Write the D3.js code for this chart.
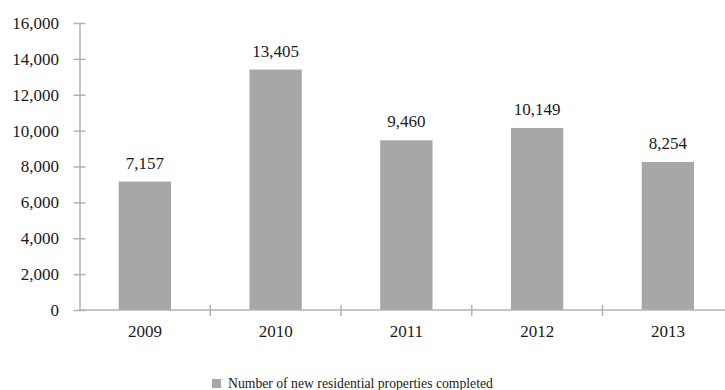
<!DOCTYPE html>
<html>
<head>
<meta charset="utf-8">
<script src="https://cdn.jsdelivr.net/npm/d3@7"></script>
<style>
  html, body { margin: 0; padding: 0; background: #fff; overflow: hidden; }
  svg { display: block; }
  text { font-family: "Liberation Serif", "Times New Roman", "DejaVu Serif", serif; fill: #1a1a1a; }
</style>
</head>
<body>
<svg id="chart" width="725" height="390"></svg>
<script>
// Completed new residential properties per year
const years = ["2009", "2010", "2011", "2012", "2013"];
const completed = [7157, 13405, 9460, 10149, 8254];
const yTicks = [0, 2000, 4000, 6000, 8000, 10000, 12000, 14000, 16000];
const seriesName = "Number of new residential properties completed";

const svg = d3.select("#chart");
const left = 79.5, bandW = 130.75;
const x = d3.scaleBand()
  .domain(years)
  .range([left, left + bandW * years.length])
  .paddingInner(0.6)
  .paddingOuter(0.3);
const y = d3.scaleLinear().domain([0, 16000]).range([310, 23]);

const axisColor = "#b3b3b6";
const barColor = "#a7a7aa";
const fmt = d3.format(",");
const labelSize = 17;

// bars
svg.selectAll("rect.bar")
  .data(years)
  .join("rect")
  .attr("class", "bar")
  .attr("x", d => x(d))
  .attr("width", x.bandwidth())
  .attr("y", (d, i) => y(completed[i]))
  .attr("height", (d, i) => y(0) - y(completed[i]))
  .attr("fill", barColor);

// value labels
svg.selectAll("text.val")
  .data(years)
  .join("text")
  .attr("class", "val")
  .attr("x", d => x(d) + x.bandwidth() / 2)
  .attr("y", (d, i) => y(completed[i]) - 13)
  .attr("text-anchor", "middle")
  .attr("font-size", labelSize)
  .text((d, i) => fmt(completed[i]));

// y axis
const yAxis = svg.append("g").attr("transform", `translate(${left},0)`)
  .call(d3.axisLeft(y).tickValues(yTicks).tickFormat(fmt).tickSize(5).tickSizeOuter(0));
yAxis.attr("font-family", null);
yAxis.select(".domain").attr("stroke", axisColor).attr("stroke-width", 1.5);
yAxis.selectAll(".tick line").attr("stroke", axisColor).attr("stroke-width", 1.5)
  .attr("x1", 6).attr("x2", -6);
yAxis.selectAll(".tick text").attr("x", -20.5).attr("font-size", labelSize).attr("fill", "#1a1a1a");

// x axis line and category separators
const y0 = y(0);
svg.append("line")
  .attr("x1", left).attr("x2", 725)
  .attr("y1", y0).attr("y2", y0)
  .attr("stroke", axisColor).attr("stroke-width", 1.5);
svg.selectAll("line.sep")
  .data(years.slice(1))
  .join("line")
  .attr("class", "sep")
  .attr("x1", d => x(d) - x.step() * x.paddingInner() / 2)
  .attr("x2", d => x(d) - x.step() * x.paddingInner() / 2)
  .attr("y1", y0 - 5).attr("y2", y0 + 6)
  .attr("stroke", axisColor).attr("stroke-width", 1.5);

// year labels
svg.selectAll("text.cat")
  .data(years)
  .join("text")
  .attr("class", "cat")
  .attr("x", d => x(d) + x.bandwidth() / 2)
  .attr("y", 337)
  .attr("text-anchor", "middle")
  .attr("font-size", labelSize)
  .text(d => d);

// legend
const lg = svg.append("g").attr("transform", "translate(212,379)");
lg.append("rect").attr("width", 9).attr("height", 9).attr("fill", barColor);
lg.append("text").attr("x", 16).attr("y", 9).attr("font-size", 13.7).text(seriesName);
</script>
</body>
</html>
